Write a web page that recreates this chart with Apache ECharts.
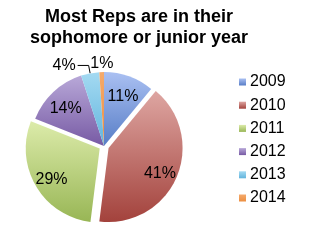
<!DOCTYPE html>
<html><head><meta charset="utf-8">
<script src="https://cdn.jsdelivr.net/npm/echarts@6/dist/echarts.min.js"></script>
<style>html,body{margin:0;padding:0;background:#fff}#c{width:314px;height:242px}</style>
</head><body><div id="c"></div>
<script>
const titleText = 'Most Reps are in their\nsophomore or junior year';
const categories = ['2009', '2010', '2011', '2012', '2013', '2014'];
const values = [11, 41, 29, 14, 4, 1];
const exploded = ['2010', '2011'];
const outsideLabels = ['2013', '2014'];

const FONT = '"Liberation Sans", Arial, sans-serif';
const topColors = ['#aac0f2', '#dea6a2', '#dcebaa', '#b8a8d8', '#a4daf2', '#f4aa6c'];
const bottomColors = ['#577dc6', '#a3423c', '#98b655', '#775aa4', '#62b4dc', '#ec8e40'];
const CENTER = [104, 146];
const R = 74;

function grad(i) {
  return new echarts.graphic.LinearGradient(0, 0, 0, 1, [
    { offset: 0, color: topColors[i] },
    { offset: 1, color: bottomColors[i] }
  ]);
}

const mainData = categories.map((c, i) => {
  const item = {
    name: c, value: values[i],
    selected: exploded.includes(c),
    itemStyle: { color: grad(i) }
  };
  if (c === '2013') {
    item.label = { show: true, position: 'outside', distanceToLabelLine: 2 };
    item.labelLine = { show: true, length: 8, length2: 11, lineStyle: { color: '#000', width: 1 } };
  } else if (c === '2014') {
    item.label = { show: true, position: 'outside', distanceToLabelLine: -12 };
    item.labelLine = { show: false, length: 8, length2: 0 };
  }
  return item;
});

const labelData = categories.map((c, i) => ({
  name: c, value: values[i],
  selected: exploded.includes(c),
  label: { show: !outsideLabels.includes(c) }
}));

const chart = echarts.init(document.getElementById('c'), null, { renderer: 'canvas' });
chart.setOption({
  animation: false,
  backgroundColor: '#fff',
  title: {
    text: titleText,
    left: 134, top: 2, textAlign: 'center',
    textStyle: { fontFamily: FONT, fontWeight: 'bold', fontSize: 18, lineHeight: 21, color: '#000' }
  },
  legend: {
    orient: 'vertical', left: 239, top: 74, padding: 0,
    itemWidth: 7, itemHeight: 7, itemGap: 7.2,
    icon: 'rect',
    data: categories,
    textStyle: { fontFamily: FONT, fontSize: 16, lineHeight: 16, color: '#000', padding: [0, 0, 0, -1] }
  },
  series: [
    {
      type: 'pie', center: CENTER, radius: [0, R],
      startAngle: 90, clockwise: true,
      selectedMode: 'multiple', selectedOffset: 5,
      avoidLabelOverlap: false,
      label: { show: false, fontFamily: FONT, fontSize: 16, color: '#000', formatter: '{c}%' },
      labelLine: { show: false },
      itemStyle: { borderWidth: 0 },
      emphasis: { disabled: true },
      data: mainData
    },
    {
      type: 'pie', center: CENTER, radius: [32, R],
      startAngle: 90, clockwise: true,
      selectedMode: 'multiple', selectedOffset: 5,
      silent: true,
      legendHoverLink: false,
      itemStyle: { color: 'rgba(0,0,0,0)', borderWidth: 0 },
      label: { show: true, position: 'inside', fontFamily: FONT, fontSize: 16, color: '#000', formatter: '{c}%' },
      labelLine: { show: false },
      labelLayout: { dy: 3 },
      emphasis: { disabled: true },
      data: labelData
    }
  ]
});
</script></body></html>
